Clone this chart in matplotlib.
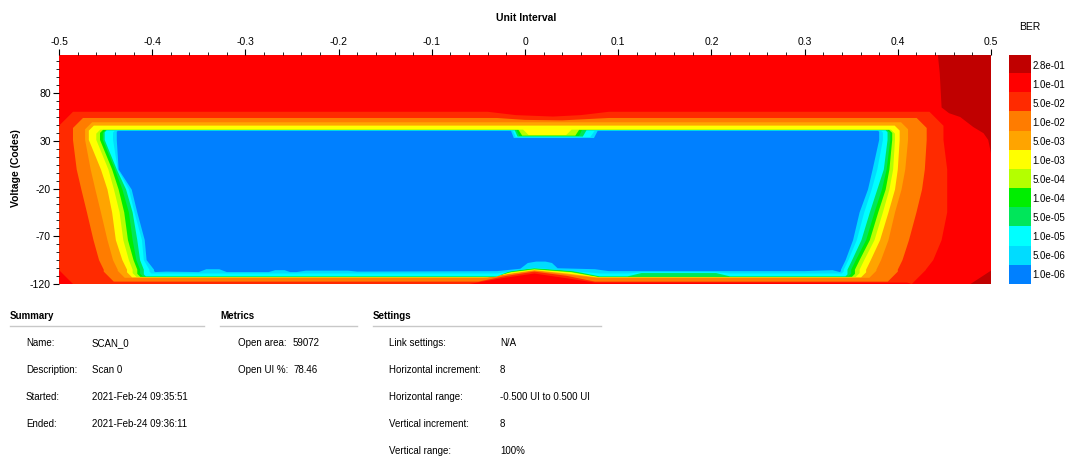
import matplotlib
matplotlib.use('Agg')
import matplotlib.pyplot as plt
from matplotlib.colors import ListedColormap
from matplotlib.lines import Line2D
from matplotlib.patches import Polygon
from matplotlib.ticker import MultipleLocator, AutoMinorLocator, FuncFormatter
import numpy as np

plt.rcParams['font.family'] = ['Liberation Sans', 'DejaVu Sans']
plt.rcParams['axes.unicode_minus'] = False

# BER legend, top to bottom
ber_labels = ['2.8e-01', '1.0e-01', '5.0e-02', '1.0e-02', '5.0e-03', '1.0e-03',
              '5.0e-04', '1.0e-04', '5.0e-05', '1.0e-05', '5.0e-06', '1.0e-06']
ber_colors = ['#c00000', '#ff0000', '#ff2a00', '#ff7c00', '#ffa400', '#ffff00',
              '#b4ff00', '#00ee00', '#00e65a', '#00ffff', '#00dcff', '#0080ff']

# contour outlines of the eye, 5.0e-02 inward to 1.0e-06 (UI / codes)
side_rows = [31, 0, -21, -45, -74, -95, -105]
left_edge = [
    [-0.500, -0.500, -0.500, -0.500, -0.500, -0.500, -0.500],
    [-0.485, -0.481, -0.476, -0.470, -0.463, -0.457, -0.452],
    [-0.472, -0.466, -0.461, -0.455, -0.448, -0.442, -0.437],
    [-0.468, -0.455, -0.448, -0.443, -0.439, -0.432, -0.427],
    [-0.460, -0.447, -0.441, -0.435, -0.431, -0.425, -0.421],
    [-0.456, -0.443, -0.436, -0.430, -0.426, -0.420, -0.416],
    [-0.453, -0.440, -0.432, -0.425, -0.421, -0.417, -0.413],
    [-0.451, -0.438, -0.428, -0.421, -0.416, -0.413, -0.409],
    [-0.442, -0.437, -0.425, -0.419, -0.411, -0.409, -0.403],
    [-0.438, -0.436, -0.422, -0.416, -0.408, -0.406, -0.398],
]
right_edge = [
    [0.449, 0.453, 0.453, 0.453, 0.447, 0.438, 0.430],
    [0.431, 0.429, 0.426, 0.420, 0.412, 0.405, 0.400],
    [0.411, 0.408, 0.404, 0.397, 0.390, 0.382, 0.377],
    [0.402, 0.400, 0.397, 0.390, 0.381, 0.371, 0.366],
    [0.397, 0.395, 0.391, 0.384, 0.375, 0.364, 0.359],
    [0.394, 0.391, 0.387, 0.379, 0.370, 0.359, 0.354],
    [0.392, 0.388, 0.383, 0.375, 0.366, 0.355, 0.350],
    [0.389, 0.385, 0.378, 0.370, 0.361, 0.351, 0.346],
    [0.384, 0.378, 0.372, 0.364, 0.356, 0.347, 0.342],
    [0.380, 0.373, 0.368, 0.359, 0.352, 0.344, 0.339],
]
top_y = [60.5, 54, 49.5, 46, 41.8, 41.5, 41.3, 41.1, 40.8, 40.5]
bottom_y = [-120, -117.5, -113.5, -113, -112.8, -112.5, -112.3, -112, -109, -107.5]

# dips under the top edge (bump near 0 UI), left to right
top_path = [
    [(-0.04, 60.5), (-0.01, 57), (0.03, 55.5), (0.06, 57), (0.09, 60.5)],
    [(-0.03, 54), (0.0, 52), (0.04, 51.5), (0.07, 53), (0.09, 54)],
    [],
    [],
    [(-0.002, 41.8), (0.004, 36), (0.044, 36), (0.05, 41.8)],
    [(-0.007, 41.5), (-0.003, 35.5), (0.054, 35.5), (0.058, 41.5)],
    [(-0.009, 41.3), (-0.006, 35), (0.058, 35), (0.061, 41.3)],
    [(-0.011, 41.1), (-0.008, 34.5), (0.062, 34.5), (0.066, 41.1)],
    [(-0.013, 40.8), (-0.01, 34), (0.07, 34), (0.075, 40.8)],
    [(-0.015, 40.5), (-0.012, 33), (0.074, 33), (0.078, 40.5)],
]
# rises along the bottom edge (hump near 0 UI), left to right
bottom_path = [
    [(-0.06, -120), (-0.025, -114), (0.01, -109), (0.045, -114), (0.075, -118.5), (0.41, -118.5)],
    [(-0.05, -117.5), (-0.02, -111.5), (0.01, -107), (0.045, -111.5), (0.075, -117.5)],
    [(-0.045, -113.5), (-0.02, -110), (0.01, -106), (0.045, -110), (0.075, -113.5)],
    [(-0.04, -113), (-0.015, -109), (0.01, -105.5), (0.045, -109), (0.077, -113)],
    [(-0.036, -112.8), (-0.015, -108), (0.01, -105), (0.05, -108), (0.078, -112.8)],
    [(-0.034, -112.5), (-0.015, -107.5), (0.01, -104.5), (0.05, -107.5), (0.079, -112.5)],
    [(-0.032, -112.3), (-0.015, -107), (0.01, -104), (0.05, -107), (0.08, -112.3)],
    [(-0.03, -112), (-0.015, -106), (0.01, -103.5), (0.05, -106), (0.08, -112),
     (0.11, -112), (0.125, -108.5), (0.205, -108.5), (0.22, -112)],
    [(-0.03, -109), (0.01, -103), (0.08, -109),
     (0.11, -109), (0.125, -107.8), (0.205, -107.8), (0.22, -109)],
    [(-0.385, -107), (-0.35, -107.5), (-0.342, -104.5), (-0.328, -104.5), (-0.32, -107.5),
     (-0.275, -107.5), (-0.268, -105.5), (-0.258, -105.5), (-0.252, -107.5),
     (-0.245, -107.5), (-0.235, -106), (-0.19, -106), (-0.18, -107), (-0.03, -106.5),
     (-0.005, -104), (0.003, -98), (0.012, -96.5), (0.022, -96.5), (0.029, -98),
     (0.035, -103.5), (0.075, -104.5), (0.09, -106.5), (0.3, -106.5), (0.33, -105.5)],
]

# 2.8e-01 areas at the right edge
dark_x = [0.443, 0.445, 0.447, 0.455, 0.467, 0.481, 0.492, 0.497, 0.5, 0.5]
dark_y = [120, 101, 65, 59, 55, 44.5, 38, 31, 17, 120]
dark_corner_x = [0.5, 0.478, 0.5]
dark_corner_y = [-106, -120, -120]

summary_labels = ['Name:', 'Description:', 'Started:', 'Ended:']
summary_values = ['SCAN_0', 'Scan 0', '2021-Feb-24 09:35:51', '2021-Feb-24 09:36:11']
metrics_labels = ['Open area:', 'Open UI %:']
metrics_values = ['59072', '78.46']
settings_labels = ['Link settings:', 'Horizontal increment:', 'Horizontal range:',
                   'Vertical increment:', 'Vertical range:']
settings_values = ['N/A', '8', '-0.500 UI to 0.500 UI', '8', '100%']

W, H = 1067, 457
fig = plt.figure(figsize=(W / 100, H / 100), dpi=100)


def fx(px):
    return px / W


def fy(py):
    return 1 - py / H


ax = fig.add_axes([fx(59), fy(284), fx(991) - fx(59), fy(55) - fy(284)])
ax.set_xlim(-0.5, 0.5)
ax.set_ylim(-120, 120)
ax.set_facecolor(ber_colors[1])

corner_px = [14, 10, 7, 5, 4, 3, 3, 2, 2, 1]


def outline(k):
    dx, dy = corner_px[k] / 932, corner_px[k] / 0.954
    lx, rx = left_edge[k], right_edge[k]
    top, bot = top_y[k], bottom_y[k]
    pts = [(lx[0] + dx, top), (lx[0], top - dy)]
    pts += list(zip(lx, side_rows))
    pts += [(lx[-1], bot + dy), (lx[-1] + dx, bot)]
    pts += bottom_path[k]
    pts += [(rx[-1] - dx, bot), (rx[-1], bot + dy)]
    pts += list(zip(rx, side_rows))[::-1]
    pts += [(rx[0], top - dy), (rx[0] - dx, top)]
    pts += top_path[k][::-1]
    return pts


ax.fill(dark_x, dark_y, color=ber_colors[0], lw=0)
ax.fill(dark_corner_x, dark_corner_y, color=ber_colors[0], lw=0)
for k in range(len(top_y)):
    ax.add_patch(Polygon(outline(k), closed=True, facecolor=ber_colors[k + 2],
                         edgecolor='none'))

for s in ax.spines.values():
    s.set_visible(False)
ax.xaxis.tick_top()
ax.xaxis.set_major_locator(MultipleLocator(0.1))
ax.xaxis.set_minor_locator(MultipleLocator(0.02))
ax.xaxis.set_major_formatter(FuncFormatter(lambda v, p: '%g' % round(v, 2) if abs(v) > 1e-9 else '0'))
ax.set_yticks([-120, -70, -20, 30, 80])
ax.yaxis.set_minor_locator(AutoMinorLocator(6))
ax.tick_params(which='major', length=4, width=0.8, labelsize=7.5, pad=2)
ax.tick_params(which='minor', length=2, width=0.6)
ax.tick_params(axis='x', which='both', top=True, bottom=False)

fig.text(fx(526), fy(18), 'Unit Interval', ha='center', va='center', fontsize=7.5, fontweight='bold')
fig.text(fx(16), fy(168), 'Voltage (Codes)', ha='center', va='center', rotation=90,
         fontsize=7.5, fontweight='bold')

# BER legend
cax = fig.add_axes([fx(1009), fy(284), fx(1031) - fx(1009), fy(55) - fy(284)])
cax.imshow(np.arange(len(ber_colors))[:, None], cmap=ListedColormap(ber_colors),
           aspect='auto', interpolation='nearest')
cax.set_xticks([])
cax.set_yticks(range(len(ber_labels)))
cax.set_yticklabels(ber_labels)
cax.yaxis.tick_right()
cax.tick_params(length=0, labelsize=7, pad=1)
for s in cax.spines.values():
    s.set_visible(False)
fig.text(fx(1030), fy(27), 'BER', ha='center', va='center', fontsize=7.5)

# summary panel
sections = [
    ('Summary', 10, 204, 26, 92, summary_labels, summary_values),
    ('Metrics', 220, 357, 238, 293, metrics_labels, metrics_values),
    ('Settings', 373, 601, 389, 500, settings_labels, settings_values),
]
for title, x0, x1, xl, xv, labels, values in sections:
    fig.text(fx(x0), fy(316), title, ha='left', va='center', fontsize=7, fontweight='bold')
    fig.add_artist(Line2D([fx(x0), fx(x1)], [fy(326), fy(326)], color='#c8c8c8', lw=1))
    for i, (lab, val) in enumerate(zip(labels, values)):
        fig.text(fx(xl), fy(343 + 27 * i), lab, ha='left', va='center', fontsize=7)
        fig.text(fx(xv), fy(343 + 27 * i), val, ha='left', va='center', fontsize=7)

fig.savefig('out.png', dpi=100)
